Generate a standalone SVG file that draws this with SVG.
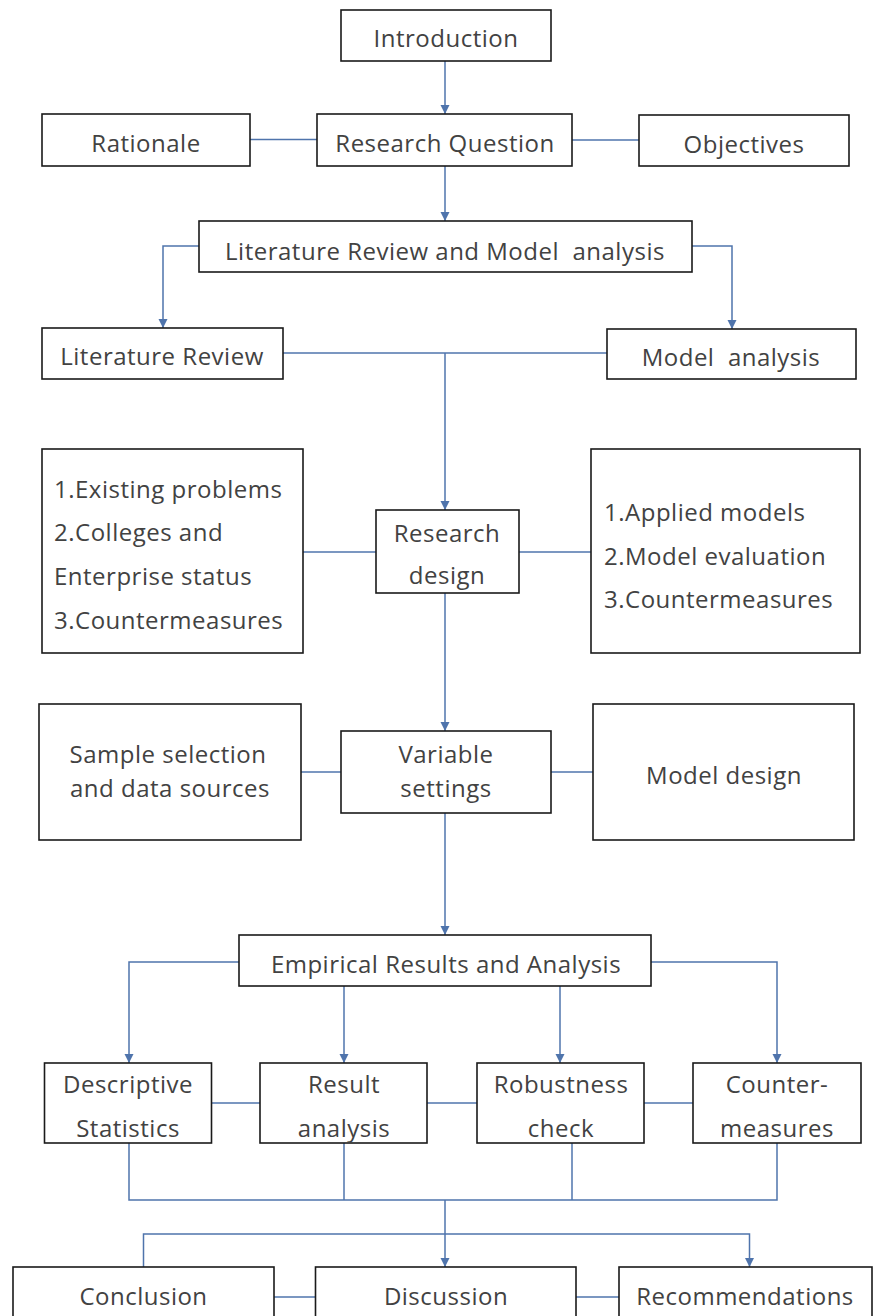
<svg xmlns="http://www.w3.org/2000/svg" width="873" height="1316" viewBox="0 0 873 1316">
<style>
.box{fill:#ffffff;stroke:#1a1a1a;stroke-width:1.6}
.t{font-family:"Open Sans","Noto Sans","Liberation Sans",sans-serif;font-size:24px;fill:#424242;letter-spacing:0.5px}
.c{text-anchor:middle}
.ln{fill:none;stroke:#4f74ac;stroke-width:1.5}
.arr{marker-end:url(#ah)}
</style>
<defs>
<marker id="ah" markerUnits="userSpaceOnUse" markerWidth="10" markerHeight="11" refX="9" refY="5" orient="auto">
<path d="M0,0.5 L9,5 L0,9.5 z" fill="#4f74ac"/>
</marker>
</defs>
<rect width="873" height="1316" fill="#ffffff"/>
<g id="connectors">
<line class="ln arr" x1="445" y1="61" x2="445" y2="114"/>
<line class="ln" x1="250" y1="139.5" x2="317" y2="139.5"/>
<line class="ln" x1="572" y1="140" x2="639" y2="140"/>
<line class="ln arr" x1="445" y1="166" x2="445" y2="221"/>
<polyline class="ln arr" points="199,246 163,246 163,328"/>
<polyline class="ln arr" points="692,246 732,246 732,329"/>
<line class="ln" x1="283" y1="353" x2="607" y2="353"/>
<line class="ln arr" x1="445" y1="353" x2="445" y2="510"/>
<line class="ln" x1="303" y1="552" x2="376" y2="552"/>
<line class="ln" x1="519" y1="552" x2="591" y2="552"/>
<line class="ln arr" x1="445" y1="593" x2="445" y2="731"/>
<line class="ln" x1="301" y1="772" x2="341" y2="772"/>
<line class="ln" x1="551" y1="772" x2="593" y2="772"/>
<line class="ln arr" x1="445" y1="813" x2="445" y2="935"/>
<polyline class="ln arr" points="239,962 129,962 129,1063"/>
<polyline class="ln arr" points="651,962 777,962 777,1063"/>
<line class="ln arr" x1="344" y1="986" x2="344" y2="1063"/>
<line class="ln arr" x1="560" y1="986" x2="560" y2="1063"/>
<line class="ln" x1="211.5" y1="1103" x2="260" y2="1103"/>
<line class="ln" x1="427" y1="1103" x2="477" y2="1103"/>
<line class="ln" x1="644" y1="1103" x2="693" y2="1103"/>
<polyline class="ln" points="129,1143 129,1200 777,1200 777,1143"/>
<line class="ln" x1="344" y1="1143" x2="344" y2="1200"/>
<line class="ln" x1="572" y1="1143" x2="572" y2="1200"/>
<line class="ln arr" x1="445" y1="1200" x2="445" y2="1267"/>
<polyline class="ln arr" points="143.5,1267 143.5,1234 749.5,1234 749.5,1267"/>
<line class="ln" x1="274" y1="1297" x2="315.5" y2="1297"/>
<line class="ln" x1="576" y1="1297" x2="619" y2="1297"/>
</g>
<g id="introduction"><rect class="box" x="341" y="10" width="210" height="51"/><text class="t c" x="446" y="47">Introduction</text></g>
<g id="rationale"><rect class="box" x="42" y="114" width="208" height="52"/><text class="t c" x="146" y="151.5">Rationale</text></g>
<g id="research-question"><rect class="box" x="317" y="114" width="255" height="52"/><text class="t c" x="445" y="151.5">Research Question</text></g>
<g id="objectives"><rect class="box" x="639" y="115" width="210" height="51"/><text class="t c" x="744" y="152.5">Objectives</text></g>
<g id="lit-model"><rect class="box" x="199" y="221" width="493" height="51"/><text class="t c" x="445" y="260" xml:space="preserve">Literature Review and Model  analysis</text></g>
<g id="literature-review"><rect class="box" x="42" y="328" width="241" height="51"/><text class="t c" x="162" y="365">Literature Review</text></g>
<g id="model-analysis"><rect class="box" x="607" y="329" width="249" height="50"/><text class="t c" x="731" y="365.5" xml:space="preserve">Model  analysis</text></g>
<g id="left-list"><rect class="box" x="42" y="449" width="261" height="204"/>
<text class="t" x="54" y="498">1.Existing problems</text>
<text class="t" x="54" y="541">2.Colleges and</text>
<text class="t" x="54" y="585">Enterprise status</text>
<text class="t" x="54" y="629">3.Countermeasures</text></g>
<g id="research-design"><rect class="box" x="376" y="510" width="143" height="83"/>
<text class="t c" x="447" y="541.5">Research</text>
<text class="t c" x="447" y="584">design</text></g>
<g id="right-list"><rect class="box" x="591" y="449" width="269" height="204"/>
<text class="t" x="604" y="521">1.Applied models</text>
<text class="t" x="604" y="565">2.Model evaluation</text>
<text class="t" x="604" y="608">3.Countermeasures</text></g>
<g id="sample-selection"><rect class="box" x="39" y="704" width="262" height="136"/>
<text class="t c" x="168" y="762.5">Sample selection</text>
<text class="t c" x="170" y="796.5">and data sources</text></g>
<g id="variable-settings"><rect class="box" x="341" y="731" width="210" height="82"/>
<text class="t c" x="446" y="762.5">Variable</text>
<text class="t c" x="446" y="796.5">settings</text></g>
<g id="model-design"><rect class="box" x="593" y="704" width="261" height="136"/>
<text class="t c" x="724" y="784">Model design</text></g>
<g id="empirical"><rect class="box" x="239" y="935" width="412" height="51"/>
<text class="t c" x="446" y="973">Empirical Results and Analysis</text></g>
<g id="descriptive"><rect class="box" x="44.5" y="1063" width="167" height="80"/>
<text class="t c" x="128" y="1093">Descriptive</text>
<text class="t c" x="128" y="1136.5">Statistics</text></g>
<g id="result-analysis"><rect class="box" x="260" y="1063" width="167" height="80"/>
<text class="t c" x="344" y="1093">Result</text>
<text class="t c" x="344" y="1136.5">analysis</text></g>
<g id="robustness"><rect class="box" x="477" y="1063" width="167" height="80"/>
<text class="t c" x="561" y="1093">Robustness</text>
<text class="t c" x="561" y="1136.5">check</text></g>
<g id="countermeasures"><rect class="box" x="693" y="1063" width="168" height="80"/>
<text class="t c" x="777" y="1093">Counter-</text>
<text class="t c" x="777" y="1136.5">measures</text></g>
<g id="conclusion"><rect class="box" x="13" y="1267" width="261" height="60"/>
<text class="t c" x="143.5" y="1305">Conclusion</text></g>
<g id="discussion"><rect class="box" x="315.5" y="1267" width="260.5" height="60"/>
<text class="t c" x="446" y="1305">Discussion</text></g>
<g id="recommendations"><rect class="box" x="619" y="1267" width="253" height="60"/>
<text class="t c" x="745" y="1305">Recommendations</text></g>
</svg>
